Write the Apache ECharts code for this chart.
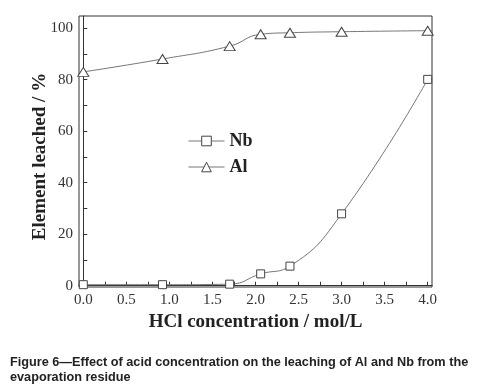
<!DOCTYPE html>
<html>
<head>
<meta charset="utf-8">
<script src="https://cdn.jsdelivr.net/npm/echarts@6/dist/echarts.min.js"></script>
<style>
  html, body { margin: 0; padding: 0; background: #fff; }
  #chart { width: 478px; height: 389px; }
</style>
</head>
<body>
<div id="chart"></div>
<script>
// HCl concentration (mol/L)
const hclConc = [0.0, 0.92, 1.7, 2.06, 2.4, 3.0, 4.0];
// % leached
const nbLeached = [0.4, 0.4, 0.6, 4.6, 7.6, 27.9, 80.1];
const alLeached = [83.0, 88.0, 93.0, 97.6, 98.2, 98.6, 99.0];

const xTicks = [0, 0.5, 1.0, 1.5, 2.0, 2.5, 3.0, 3.5, 4.0];
const xMinorTicks = [0, 0.25, 0.5, 0.75, 1.0, 1.25, 1.5, 1.75, 2.0, 2.25, 2.5, 2.75, 3.0, 3.25, 3.5, 3.75, 4.0];
const yTicks = [0, 20, 40, 60, 80, 100];
const yMinorTicks = [0, 10, 20, 30, 40, 50, 60, 70, 80, 90, 100];

const serif = '"Liberation Serif", "DejaVu Serif", serif';
const axisColor = '#333';

const chart = echarts.init(document.getElementById('chart'));

const pairs = (xs, ys) => xs.map((x, i) => [x, ys[i]]);

chart.setOption({
  animation: false,
  backgroundColor: '#fff',
  title: {
    text: 'Figure 6\u2014Effect of acid concentration on the leaching of Al and Nb from the\nevaporation residue',
    left: 5,
    top: 350,
    textStyle: {
      fontFamily: '"Liberation Sans", Arial, sans-serif',
      fontWeight: 'bold',
      fontSize: 12.7,
      lineHeight: 15,
      color: '#222'
    }
  },
  grid: {
    left: 79,
    top: 16,
    right: 46,
    bottom: 102,
    show: true,
    borderColor: axisColor,
    borderWidth: 1,
    backgroundColor: 'transparent'
  },
  legend: {
    orient: 'vertical',
    left: 183,
    top: 127,
    itemWidth: 36,
    itemHeight: 12,
    itemGap: 8,
    data: ['Nb', 'Al'],
    lineStyle: { width: 1, color: '#777' },
    itemStyle: { borderWidth: 1 },
    textStyle: {
      fontFamily: serif,
      fontWeight: 'bold',
      fontSize: 18,
      color: '#222'
    }
  },
  xAxis: {
    type: 'value',
    min: -0.05,
    max: 4.05,
    name: 'HCl concentration / mol/L',
    nameLocation: 'middle',
    nameGap: 26,
    nameMoveOverlap: false,
    nameTextStyle: {
      fontFamily: serif,
      fontWeight: 'bold',
      fontSize: 19,
      color: '#222'
    },
    axisLine: { lineStyle: { color: axisColor, width: 1 } },
    axisTick: {
      inside: true,
      length: 4,
      customValues: xMinorTicks,
      lineStyle: { color: axisColor }
    },
    axisLabel: {
      customValues: xTicks,
      margin: 6,
      fontFamily: serif,
      fontSize: 15,
      color: '#333',
      formatter: v => v.toFixed(1)
    },
    splitLine: { show: false }
  },
  yAxis: {
    type: 'value',
    min: -0.5,
    max: 104.7,
    name: 'Element leached / %',
    nameLocation: 'middle',
    nameGap: 29,
    nameMoveOverlap: false,
    nameTextStyle: {
      fontFamily: serif,
      fontWeight: 'bold',
      fontSize: 19,
      color: '#222',
      padding: [0, 10, 0, 0]
    },
    axisLine: { lineStyle: { color: axisColor, width: 1 } },
    axisTick: {
      inside: true,
      length: 4,
      customValues: yMinorTicks,
      lineStyle: { color: axisColor }
    },
    axisLabel: {
      customValues: yTicks,
      margin: 6,
      fontFamily: serif,
      fontSize: 15,
      color: '#333'
    },
    splitLine: { show: false }
  },
  series: [
    {
      name: 'Nb',
      type: 'line',
      smooth: 0.5,
      data: pairs(hclConc, nbLeached),
      symbol: 'rect',
      symbolSize: 8,
      lineStyle: { color: '#777', width: 1 },
      itemStyle: { color: '#fff', borderColor: '#444', borderWidth: 1 }
    },
    {
      name: 'Al',
      type: 'line',
      smooth: 0.5,
      data: pairs(hclConc, alLeached),
      symbol: 'triangle',
      symbolSize: [11, 9],
      lineStyle: { color: '#777', width: 1 },
      itemStyle: { color: '#fff', borderColor: '#444', borderWidth: 1 }
    }
  ]
});
</script>
</body>
</html>
